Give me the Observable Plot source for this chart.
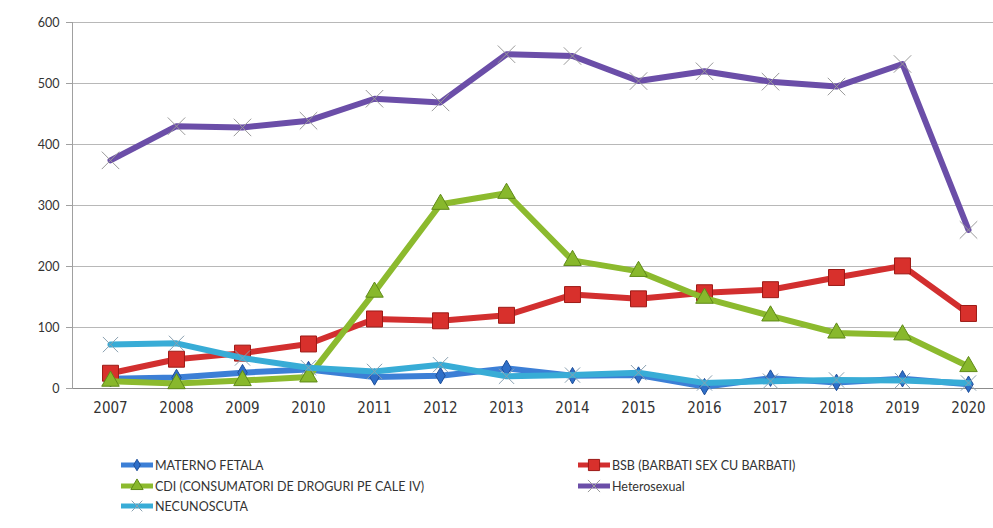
<!DOCTYPE html>
<html>
<head>
<meta charset="utf-8">
<script src="https://cdn.jsdelivr.net/npm/d3@7"></script>
<script src="https://cdn.jsdelivr.net/npm/@observablehq/plot@0.6"></script>
<style>
  html, body { margin: 0; padding: 0; background: #fff; }
  #wrap { width: 993px; height: 528px; position: relative; overflow: hidden; font-family: Lato, "Open Sans", sans-serif; }
  #legend { position: absolute; left: 0; top: 457px; width: 993px; font-size: 12.5px; color: #333; }
  .item { position: absolute; display: flex; align-items: center; white-space: nowrap; }
  .item svg { display: block; margin-right: 1px; }
</style>
</head>
<body>
<div id="wrap">
  <div id="chart"></div>
  <div id="legend"></div>
</div>
<script>
const years = [2007, 2008, 2009, 2010, 2011, 2012, 2013, 2014, 2015, 2016, 2017, 2018, 2019, 2020];
const seriesNames = ["MATERNO FETALA", "BSB (BARBATI SEX CU BARBATI)", "CDI (CONSUMATORI DE DROGURI PE CALE IV)", "Heterosexual", "NECUNOSCUTA"];
const maternoFetala = [16, 18, 26, 31, 19, 21, 33, 21, 22, 3, 17, 10, 16, 7];
const bsb = [25, 48, 58, 73, 114, 111, 120, 154, 147, 157, 162, 182, 201, 123];
const cdi = [12, 8, 13, 19, 158, 302, 320, 210, 192, 148, 119, 91, 88, 36];
const heterosexual = [374, 430, 428, 439, 475, 469, 548, 545, 504, 520, 503, 495, 532, 260];
const necunoscuta = [72, 74, 50, 34, 28, 39, 20, 22, 26, 9, 12, 14, 13, 9];
const yTicks = [0, 100, 200, 300, 400, 500, 600];

const seriesValues = [maternoFetala, bsb, cdi, heterosexual, necunoscuta];

// styles, keyed by series index
const lineColors = ["#3c7fd6", "#d22f2f", "#8cba2e", "#6b4ea8", "#38acd6"];
const markers = [
  {symbol: "diamond", r: 5, fill: "#2f6fc8", stroke: "#1f4f9a", sw: 1},
  {symbol: "square", r: 9, fill: "#d8302c", stroke: "#9c1a16", sw: 1},
  {symbol: "triangle", r: 6.5, fill: "#88b82c", stroke: "#5f8a18", sw: 1},
  {symbol: "times", r: 8, fill: "none", stroke: "#9a9a9a", sw: 1},
  {symbol: "times", r: 7, fill: "none", stroke: "#8aa0b0", sw: 1}
];

const rows = [];
seriesNames.forEach((name, i) => {
  years.forEach((yr, j) => rows.push({series: name, idx: i, year: yr, value: seriesValues[i][j]}));
});

const marks = [
  Plot.gridY(yTicks.filter(d => d > 0), {stroke: "#b8b8b8", strokeOpacity: 1}),
  Plot.ruleY([0], {stroke: "#8c8c8c"}),
  Plot.frame({anchor: "left", stroke: "#a0a0a0"}),
  Plot.axisY({ticks: yTicks, tickSize: 6, tickPadding: 7, stroke: "#a0a0a0", label: null, fontSize: 12.5, fill: "#333"}),
  Plot.axisX({tickSize: 0, tickPadding: 14, tickFormat: d => String(d), label: null, fontSize: 15,
    fontFamily: "'Liberation Sans Narrow', 'DejaVu Sans Condensed', Lato, sans-serif", fill: "#333"})
];
seriesNames.forEach((name, i) => {
  const data = rows.filter(r => r.idx === i);
  marks.push(Plot.line(data, {x: "year", y: "value", stroke: lineColors[i], strokeWidth: 6, strokeLinejoin: "round", strokeLinecap: "round"}));
  const m = markers[i];
  marks.push(Plot.dot(data, {x: "year", y: "value", symbol: m.symbol, r: m.r, fill: m.fill, stroke: m.stroke, strokeWidth: m.sw}));
});

const chart = Plot.plot({
  width: 993,
  height: 430,
  marginLeft: 72,
  marginRight: 0,
  marginTop: 22,
  marginBottom: 42,
  style: {fontFamily: "Lato, 'Open Sans', sans-serif", fontSize: "12px", color: "#333", background: "#fff"},
  x: {type: "point", domain: years, range: [105, 972], padding: 0},
  y: {domain: [0, 600], range: [388, 22]},
  marks
});
document.getElementById("chart").appendChild(chart);

// legend
const legendPos = [
  {left: 120, top: 0}, {left: 577, top: 0},
  {left: 120, top: 21}, {left: 577, top: 21},
  {left: 120, top: 41}
];
const legend = document.getElementById("legend");
seriesNames.forEach((name, i) => {
  const m = markers[i];
  const sym = d3.symbol().type({
    diamond: d3.symbolDiamond, square: d3.symbolSquare, triangle: d3.symbolTriangle, times: d3.symbolTimes
  }[m.symbol]).size(Math.PI * (m.r * 0.7) ** 2)();
  const div = document.createElement("div");
  div.className = "item";
  div.style.left = legendPos[i].left + "px";
  div.style.top = legendPos[i].top + "px";
  div.innerHTML = `<svg width="34" height="16"><line x1="1" x2="33" y1="8" y2="8" stroke="${lineColors[i]}" stroke-width="5"/><path d="${sym}" transform="translate(17,8)" fill="${m.fill}" stroke="${m.stroke}"/></svg><span>${name}</span>`;
  legend.appendChild(div);
});
</script>
</body>
</html>
